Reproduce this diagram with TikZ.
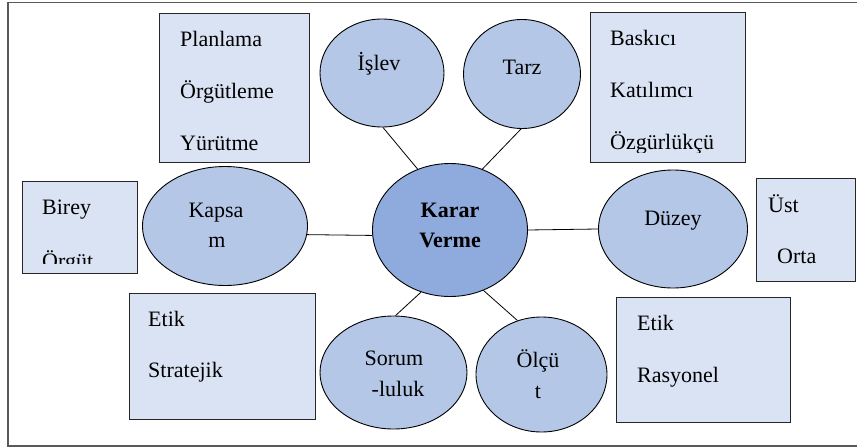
\documentclass[tikz,border=0pt]{standalone}
\usepackage{fontspec}
\setmainfont{Liberation Serif}
\usetikzlibrary{shapes.geometric}
\definecolor{boxfill}{HTML}{DAE3F3}
\definecolor{topicfill}{HTML}{B4C7E7}
\definecolor{corefill}{HTML}{8FAADC}
\definecolor{framegray}{HTML}{595959}
\begin{document}
\begin{tikzpicture}[x=1pt,y=-1pt,
  listbox/.style={draw=black!85, line width=0.9pt, fill=boxfill, rectangle, inner sep=0pt},
  topic/.style={draw=black, line width=0.9pt, fill=topicfill, ellipse, inner sep=0pt},
  core/.style={topic, fill=corefill},
  label/.style={inner sep=0pt, font=\fontsize{22}{26}\selectfont},
  item/.style={label, anchor=base west},
  centred/.style={label, anchor=base},
  link/.style={draw=black, line width=0.8pt}]
\useasboundingbox (0,0) rectangle (857,447);

% outer frame (open on the right)
\draw[framegray, line width=1.3pt] (857,2.5) -- (8,2.5) -- (8,446) -- (857,446);

% list boxes
\node[listbox, minimum width=150, minimum height=149] (plan)  at (234,87.5)  {};
\node[listbox, minimum width=155, minimum height=150] (style) at (667.5,87)  {};
\node[listbox, minimum width=115, minimum height=92]  (scope) at (79.5,227)  {};
\node[listbox, minimum width=99,  minimum height=103] (level) at (805.5,229.5) {};
\node[listbox, minimum width=186, minimum height=126] (resp)  at (222,356)   {};
\node[listbox, minimum width=174, minimum height=125] (crit)  at (703,359.5) {};

% topic ellipses
\node[topic, minimum width=124, minimum height=108] (islev)  at (382,73)    {};
\node[topic, minimum width=117, minimum height=109] (tarz)   at (522,74)    {};
\node[topic, minimum width=165, minimum height=119] (kapsam) at (225,226)   {};
\node[core,  minimum width=155, minimum height=133] (karar)  at (450,230)   {};
\node[topic, minimum width=149, minimum height=118] (duzey)  at (673,229)   {};
\node[topic, minimum width=147, minimum height=113] (sorum)  at (393.5,372.5) {};
\node[topic, minimum width=131, minimum height=115] (olcut)  at (541.5,374.5) {};

% connectors
\draw[link] (islev.-89)  -- (karar.118);
\draw[link] (tarz.-91)   -- (karar.62);
\draw[link] (kapsam.-6)  -- (karar.184);
\draw[link] (karar.east) -- (duzey.west);
\draw[link] (sorum.88)   -- (karar.-115);
\draw[link] (olcut.114)  -- (karar.-61);

% ellipse labels
\node[centred] (l-islev) at (379,70) {İşlev};
\node[centred] (l-tarz)  at (522,74) {Tarz};
\node[centred] (l-kap1)  at (216,217) {Kapsa};
\node[centred] (l-kap2)  at (217,247) {m};
\node[centred, font=\fontsize{22}{26}\selectfont\bfseries] (l-kar1) at (450,217) {Karar};
\node[centred, font=\fontsize{22}{26}\selectfont\bfseries] (l-kar2) at (450,247) {Verme};
\node[centred] (l-duzey) at (673,225) {Düzey};
\node[centred] (l-sor1)  at (394,365) {Sorum};
\node[centred] (l-sor2)  at (398,396) {-luluk};
\node[centred] (l-olc1)  at (538,367) {Ölçü};
\node[centred] (l-olc2)  at (538,398) {t};

% box contents
\node[item] (p1) at (180,46)  {Planlama};
\node[item] (p2) at (180,98)  {Örgütleme};
\node[item] (p3) at (180,150) {Yürütme};

\node[item] (s1) at (610,45) {Baskıcı};
\node[item] (s2) at (610,97) {Katılımcı};
\begin{scope}
  \clip (590,12) rectangle (745,152);
  \node[item] (s3) at (610,149) {Özgürlükçü};
\end{scope}

\node[item] (b1) at (42,214) {Birey};
\begin{scope}
  \clip (22,181) rectangle (137,263);
  \node[item] (b2) at (42,268) {Örgüt};
\end{scope}

\node[item] (u1) at (768,212) {Üst};
\node[item] (u2) at (777,263) {Orta};

\node[item] (r1) at (148,326) {Etik};
\node[item] (r2) at (148,377) {Stratejik};

\node[item] (c1) at (637,330) {Etik};
\node[item] (c2) at (637,382) {Rasyonel};
\end{tikzpicture}
\end{document}
